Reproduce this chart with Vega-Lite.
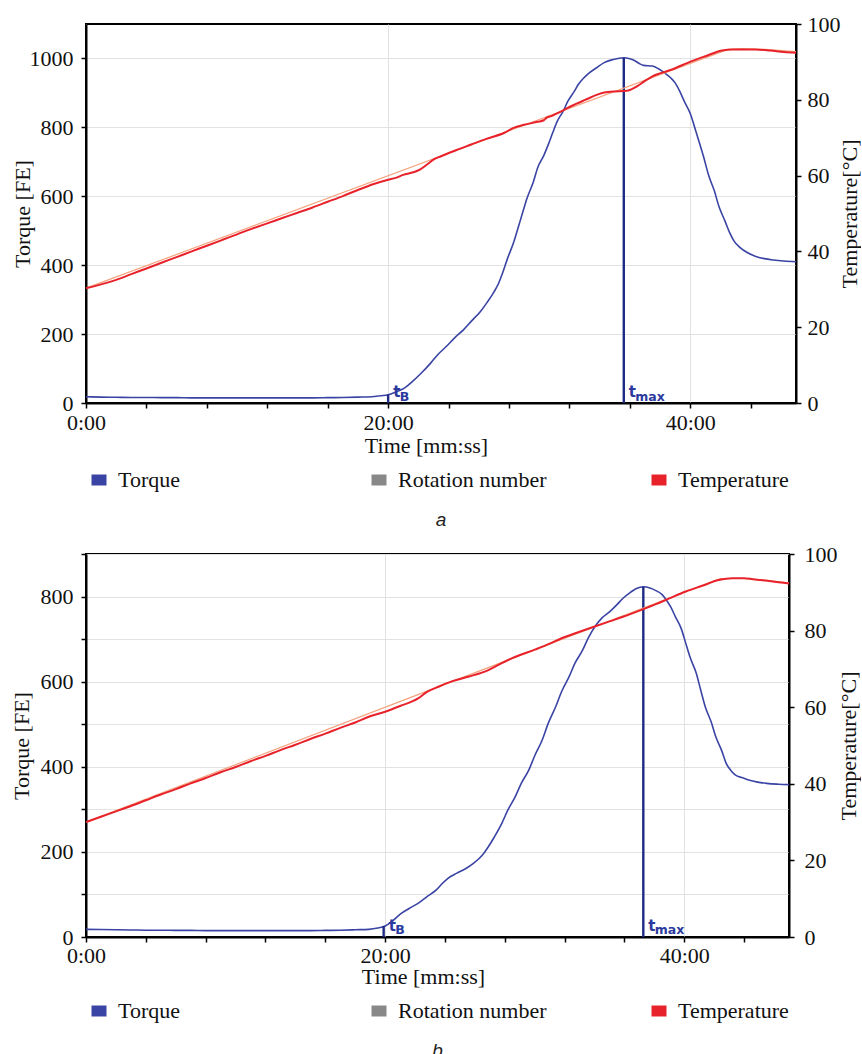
{
"$schema":"https://vega.github.io/schema/vega-lite/v6.json",
"background":"white",
"padding":{"left":9,"top":12,"right":0,"bottom":0},
"autosize":{"type":"pad"},
"datasets":{
"torqueA":[{"t":0,"v":18},{"t":1,"v":17},{"t":2,"v":16.5},{"t":3,"v":16},{"t":4,"v":16},{"t":5,"v":15.5},{"t":6,"v":15.5},{"t":7,"v":15},{"t":8,"v":15},{"t":9,"v":15},{"t":10,"v":14.8},{"t":11,"v":14.8},{"t":12,"v":15},{"t":13,"v":15},{"t":14,"v":15},{"t":15,"v":15},{"t":16,"v":15.5},{"t":17,"v":16},{"t":18,"v":17},{"t":18.9,"v":18},{"t":19.5,"v":21},{"t":20,"v":24},{"t":20.5,"v":32},{"t":21.1,"v":44},{"t":21.6,"v":62},{"t":22.2,"v":87},{"t":22.8,"v":115},{"t":23.3,"v":141},{"t":23.9,"v":166},{"t":24.4,"v":189},{"t":25.0,"v":213},{"t":25.5,"v":237},{"t":26.1,"v":265},{"t":26.6,"v":295},{"t":27.0,"v":322},{"t":27.3,"v":346},{"t":27.6,"v":380},{"t":27.9,"v":419},{"t":28.3,"v":465},{"t":28.6,"v":508},{"t":28.9,"v":552},{"t":29.2,"v":595},{"t":29.6,"v":640},{"t":29.9,"v":683},{"t":30.3,"v":718},{"t":30.6,"v":750},{"t":30.9,"v":785},{"t":31.2,"v":818},{"t":31.6,"v":848},{"t":31.9,"v":876},{"t":32.3,"v":903},{"t":32.6,"v":925},{"t":32.9,"v":941},{"t":33.2,"v":954},{"t":33.8,"v":973},{"t":34.3,"v":988},{"t":34.9,"v":997},{"t":35.6,"v":1002},{"t":36.0,"v":999},{"t":36.3,"v":994},{"t":36.6,"v":986},{"t":36.9,"v":980},{"t":37.5,"v":978},{"t":37.9,"v":970},{"t":38.3,"v":958},{"t":38.7,"v":944},{"t":39.0,"v":929},{"t":39.3,"v":905},{"t":39.6,"v":876},{"t":40.0,"v":840},{"t":40.3,"v":799},{"t":40.6,"v":756},{"t":40.9,"v":712},{"t":41.2,"v":663},{"t":41.6,"v":615},{"t":41.9,"v":570},{"t":42.3,"v":528},{"t":42.6,"v":495},{"t":42.9,"v":470},{"t":43.3,"v":451},{"t":43.8,"v":436},{"t":44.3,"v":426},{"t":44.9,"v":419},{"t":45.5,"v":415},{"t":46.2,"v":412},{"t":47.0,"v":410}],
"tempA":[{"t":0,"v":30.3},{"t":1,"v":31.3},{"t":2,"v":32.5},{"t":3,"v":34.0},{"t":4,"v":35.5},{"t":5,"v":37.0},{"t":6,"v":38.5},{"t":7,"v":40.0},{"t":8,"v":41.5},{"t":9,"v":43.0},{"t":10,"v":44.5},{"t":11,"v":46.0},{"t":12,"v":47.4},{"t":13,"v":48.8},{"t":14,"v":50.2},{"t":15,"v":51.6},{"t":16,"v":53.1},{"t":17,"v":54.6},{"t":18,"v":56.2},{"t":19,"v":57.7},{"t":20,"v":58.9},{"t":20.5,"v":59.4},{"t":21,"v":60.2},{"t":21.6,"v":60.8},{"t":22.1,"v":61.6},{"t":22.6,"v":63.0},{"t":23.0,"v":64.2},{"t":23.5,"v":65.1},{"t":24.5,"v":66.7},{"t":25.5,"v":68.2},{"t":26.5,"v":69.7},{"t":27.7,"v":71.3},{"t":28.3,"v":72.6},{"t":29.0,"v":73.4},{"t":29.9,"v":74.2},{"t":30.3,"v":74.6},{"t":30.5,"v":75.3},{"t":30.8,"v":75.7},{"t":31.5,"v":77.0},{"t":32.1,"v":78.3},{"t":33.0,"v":79.9},{"t":34.3,"v":81.9},{"t":35.0,"v":82.2},{"t":35.6,"v":82.3},{"t":36.0,"v":82.6},{"t":36.5,"v":83.6},{"t":37.0,"v":85.0},{"t":37.5,"v":86.2},{"t":38.8,"v":88.0},{"t":40.1,"v":90.2},{"t":41.0,"v":91.5},{"t":42.1,"v":93.0},{"t":42.8,"v":93.3},{"t":44.3,"v":93.3},{"t":45.3,"v":93.0},{"t":46.2,"v":92.6},{"t":47,"v":92.4}],
"setA":[{"t":0,"v":30.3},{"t":42.5,"v":93.3},{"t":43.5,"v":93.5},{"t":45,"v":93.3},{"t":47,"v":92.7}],
"markA":[{"t":20,"v":24,"sub":"B"},{"t":35.6,"v":1002,"sub":"max"}],
"torqueB":[{"t":0,"v":18},{"t":1,"v":17.5},{"t":2,"v":17},{"t":3,"v":16.5},{"t":4,"v":16},{"t":5,"v":16},{"t":6,"v":15.5},{"t":7,"v":15.5},{"t":8,"v":15},{"t":9,"v":15},{"t":10,"v":15},{"t":11,"v":15},{"t":12,"v":15},{"t":13,"v":15},{"t":14,"v":15},{"t":15,"v":15},{"t":16,"v":15.5},{"t":17,"v":16},{"t":18,"v":17},{"t":18.9,"v":18},{"t":19.5,"v":21},{"t":20,"v":26},{"t":20.5,"v":38},{"t":21.1,"v":56},{"t":21.6,"v":67},{"t":22.2,"v":79},{"t":22.8,"v":95},{"t":23.4,"v":110},{"t":23.8,"v":125},{"t":24.2,"v":138},{"t":24.8,"v":150},{"t":25.4,"v":161},{"t":25.9,"v":173},{"t":26.3,"v":185},{"t":26.6,"v":197},{"t":26.9,"v":212},{"t":27.3,"v":235},{"t":27.8,"v":267},{"t":28.2,"v":298},{"t":28.7,"v":330},{"t":29.1,"v":361},{"t":29.6,"v":392},{"t":30.0,"v":426},{"t":30.5,"v":463},{"t":30.9,"v":502},{"t":31.4,"v":541},{"t":31.8,"v":577},{"t":32.3,"v":612},{"t":32.7,"v":644},{"t":33.2,"v":674},{"t":33.6,"v":704},{"t":34.1,"v":733},{"t":34.5,"v":750},{"t":35.0,"v":764},{"t":35.5,"v":781},{"t":35.9,"v":796},{"t":36.4,"v":810},{"t":36.8,"v":819},{"t":37.3,"v":823},{"t":37.7,"v":820},{"t":38.1,"v":814},{"t":38.5,"v":805},{"t":38.8,"v":792},{"t":39.1,"v":775},{"t":39.4,"v":753},{"t":39.8,"v":724},{"t":40.1,"v":690},{"t":40.4,"v":656},{"t":40.8,"v":620},{"t":41.1,"v":580},{"t":41.4,"v":541},{"t":41.8,"v":505},{"t":42.1,"v":471},{"t":42.5,"v":438},{"t":42.8,"v":408},{"t":43.1,"v":392},{"t":43.4,"v":381},{"t":43.9,"v":374},{"t":44.3,"v":369},{"t":44.9,"v":364},{"t":45.5,"v":361},{"t":46.3,"v":359},{"t":47.0,"v":358}],
"tempB":[{"t":0,"v":30.0},{"t":1,"v":31.4},{"t":2,"v":32.8},{"t":3,"v":34.2},{"t":4,"v":35.7},{"t":5,"v":37.2},{"t":6,"v":38.6},{"t":7,"v":40.1},{"t":8,"v":41.5},{"t":9,"v":43.0},{"t":10,"v":44.4},{"t":11,"v":45.9},{"t":12,"v":47.3},{"t":13,"v":48.8},{"t":14,"v":50.2},{"t":15,"v":51.7},{"t":16,"v":53.1},{"t":17,"v":54.6},{"t":18,"v":56.0},{"t":18.9,"v":57.5},{"t":20,"v":58.8},{"t":21,"v":60.3},{"t":22.2,"v":62.3},{"t":22.8,"v":64.0},{"t":23.6,"v":65.4},{"t":24.5,"v":66.8},{"t":25.6,"v":68.0},{"t":26.9,"v":69.7},{"t":27.7,"v":71.3},{"t":28.5,"v":72.8},{"t":30.05,"v":75.1},{"t":31.0,"v":76.6},{"t":31.8,"v":78.0},{"t":33.0,"v":79.7},{"t":34.1,"v":81.2},{"t":35.0,"v":82.4},{"t":35.9,"v":83.6},{"t":37.26,"v":85.6},{"t":38.1,"v":86.9},{"t":39.0,"v":88.4},{"t":40.1,"v":90.2},{"t":41.2,"v":91.7},{"t":42.3,"v":93.2},{"t":43.2,"v":93.7},{"t":44.0,"v":93.7},{"t":44.6,"v":93.4},{"t":45.8,"v":92.9},{"t":47,"v":92.3}],
"setB":[{"t":0,"v":30.0},{"t":42.4,"v":93.6},{"t":44,"v":93.6},{"t":45.5,"v":93.1},{"t":47,"v":92.5}],
"markB":[{"t":19.9,"v":26,"sub":"B"},{"t":37.26,"v":823,"sub":"max"}]
},
"vconcat":[
{
"width":710,"height":379,
"title":{"text":"a","orient":"bottom","anchor":"middle","offset":9},
"resolve":{"scale":{"y":"independent"}},
"layer":[
{"layer":[
{"data":{"name":"torqueA"},"mark":{"type":"line","interpolate":"monotone"},
"encoding":{
"x":{"field":"t","type":"quantitative","scale":{"domain":[0,47],"nice":false,"zero":false},
"axis":{"values":[0,1,2,3,4,5,6,7,8,9,10,11,12,13,14,15,16,17,18,19,20,21,22,23,24,25,26,27,28,29,30,31,32,33,34,35,36,37,38,39,40,41,42,43,44,45,46,47],
"labelExpr":"datum.value % 10 == 0 ? datum.value + ':00' : ''","title":"Time [mm:ss]","titleX":340,"labelPadding":4,"titlePadding":2,
"grid":true,"gridOpacity":{"condition":{"test":"datum.value % 10 == 0","value":1},"value":0}}},
"y":{"field":"v","type":"quantitative","scale":{"domain":[0,1100],"nice":false},
"axis":{"values":[0,50,100,150,200,250,300,350,400,450,500,550,600,650,700,750,800,850,900,950,1000,1050,1100],
"labelExpr":"datum.value % 200 == 0 ? '' + datum.value : ''","title":"Torque [FE]","labelPadding":8,"titlePadding":-5,
"grid":true,"gridOpacity":{"condition":{"test":"datum.value % 100 == 0","value":1},"value":0}}},
"strokeWidth":{"value":1.6},
"color":{"datum":"Torque","type":"nominal","scale":{"domain":["Torque","Rotation number","Temperature"],"range":["#3a44a4","#888888","#e8222a"]},
"legend":{"orient":"bottom","direction":"horizontal","columns":3,"gridAlign":"all","columnPadding":82,"title":null,"symbolType":"stroke","symbolSize":225,"symbolStrokeWidth":11,"symbolOpacity":1,"labelFont":"Liberation Serif","labelFontSize":22,"labelColor":"#111","labelOffset":6,"offset":11,"padding":0}}
}},
{"data":{"name":"markA"},"mark":{"type":"rule","color":"#1e2a84","strokeWidth":2.4},
"encoding":{"x":{"field":"t","type":"quantitative"},"y":{"field":"v","type":"quantitative"},"y2":{"datum":0}}},
{"data":{"name":"markA"},"mark":{"type":"text","align":"left","baseline":"alphabetic","dx":5,"dy":-6,"font":"DejaVu Sans","fontWeight":"bold","fontSize":15,"color":"#2c3a9e"},
"encoding":{"x":{"field":"t","type":"quantitative"},"y":{"datum":0,"type":"quantitative"},"text":{"value":"t"}}},
{"data":{"name":"markA"},"mark":{"type":"text","align":"left","baseline":"alphabetic","dx":11.5,"dy":-2.5,"font":"DejaVu Sans","fontWeight":"bold","fontSize":12.5,"color":"#2c3a9e"},
"encoding":{"x":{"field":"t","type":"quantitative"},"y":{"datum":0,"type":"quantitative"},"text":{"field":"sub"}}}
]},
{"layer":[
{"data":{"name":"setA"},"mark":{"type":"line","color":"#f4a27e","strokeWidth":1.2},
"encoding":{"x":{"field":"t","type":"quantitative"},
"y":{"field":"v","type":"quantitative","scale":{"domain":[0,100],"nice":false},
"axis":{"orient":"right","values":[0,5,10,15,20,25,30,35,40,45,50,55,60,65,70,75,80,85,90,95,100],"labelExpr":"datum.value % 10 == 0 ? datum.label : ''",
"title":"Temperature[°C]","titleAngle":-90,"titleBaseline":"top","labelPadding":6,"titlePadding":-1,"grid":false}}}},
{"data":{"name":"tempA"},"mark":{"type":"line","interpolate":"monotone"},
"encoding":{"x":{"field":"t","type":"quantitative"},"y":{"field":"v","type":"quantitative"},"strokeWidth":{"value":2},
"color":{"datum":"Temperature","type":"nominal",
"legend":{"orient":"bottom","direction":"horizontal","columns":3,"gridAlign":"all","columnPadding":82,"title":null,"symbolType":"stroke","symbolSize":225,"symbolStrokeWidth":11,"symbolOpacity":1,"labelFont":"Liberation Serif","labelFontSize":22,"labelColor":"#111","labelOffset":6,"offset":11,"padding":0}}}}
]}
]
},
{
"width":703,"height":383,
"title":{"text":"b","orient":"bottom","anchor":"middle","offset":9},
"resolve":{"scale":{"y":"independent"}},
"layer":[
{"layer":[
{"data":{"name":"torqueB"},"mark":{"type":"line","interpolate":"monotone"},
"encoding":{
"x":{"field":"t","type":"quantitative","scale":{"domain":[0,47],"nice":false,"zero":false},
"axis":{"values":[0,1,2,3,4,5,6,7,8,9,10,11,12,13,14,15,16,17,18,19,20,21,22,23,24,25,26,27,28,29,30,31,32,33,34,35,36,37,38,39,40,41,42,43,44,45,46,47],
"labelExpr":"datum.value % 10 == 0 ? datum.value + ':00' : ''","title":"Time [mm:ss]","titleX":337,"labelPadding":3,"titlePadding":0,
"grid":true,"gridOpacity":{"condition":{"test":"datum.value % 10 == 0","value":1},"value":0}}},
"y":{"field":"v","type":"quantitative","scale":{"domain":[0,900],"nice":false},
"axis":{"values":[0,50,100,150,200,250,300,350,400,450,500,550,600,650,700,750,800,850,900],
"labelExpr":"datum.value % 200 == 0 ? '' + datum.value : ''","title":"Torque [FE]","labelPadding":8,"titlePadding":7,
"grid":true,"gridOpacity":{"condition":{"test":"datum.value % 100 == 0","value":1},"value":0}}},
"strokeWidth":{"value":1.6},
"color":{"datum":"Torque","type":"nominal","scale":{"domain":["Torque","Rotation number","Temperature"],"range":["#3a44a4","#888888","#e8222a"]},
"legend":{"orient":"bottom","direction":"horizontal","columns":3,"gridAlign":"all","columnPadding":82,"title":null,"symbolType":"stroke","symbolSize":225,"symbolStrokeWidth":11,"symbolOpacity":1,"labelFont":"Liberation Serif","labelFontSize":22,"labelColor":"#111","labelOffset":6,"offset":11,"padding":0}}
}},
{"data":{"name":"markB"},"mark":{"type":"rule","color":"#1e2a84","strokeWidth":2.4},
"encoding":{"x":{"field":"t","type":"quantitative"},"y":{"field":"v","type":"quantitative"},"y2":{"datum":0}}},
{"data":{"name":"markB"},"mark":{"type":"text","align":"left","baseline":"alphabetic","dx":5,"dy":-6,"font":"DejaVu Sans","fontWeight":"bold","fontSize":15,"color":"#2c3a9e"},
"encoding":{"x":{"field":"t","type":"quantitative"},"y":{"datum":0,"type":"quantitative"},"text":{"value":"t"}}},
{"data":{"name":"markB"},"mark":{"type":"text","align":"left","baseline":"alphabetic","dx":11.5,"dy":-3,"font":"DejaVu Sans","fontWeight":"bold","fontSize":12.5,"color":"#2c3a9e"},
"encoding":{"x":{"field":"t","type":"quantitative"},"y":{"datum":0,"type":"quantitative"},"text":{"field":"sub"}}}
]},
{"layer":[
{"data":{"name":"setB"},"mark":{"type":"line","color":"#f4a27e","strokeWidth":1.2},
"encoding":{"x":{"field":"t","type":"quantitative"},
"y":{"field":"v","type":"quantitative","scale":{"domain":[0,100],"nice":false},
"axis":{"orient":"right","values":[0,5,10,15,20,25,30,35,40,45,50,55,60,65,70,75,80,85,90,95,100],"labelExpr":"datum.value % 10 == 0 ? datum.label : ''",
"title":"Temperature[°C]","titleAngle":-90,"titleBaseline":"top","labelPadding":10,"titlePadding":1,"grid":false}}}},
{"data":{"name":"tempB"},"mark":{"type":"line","interpolate":"monotone"},
"encoding":{"x":{"field":"t","type":"quantitative"},"y":{"field":"v","type":"quantitative"},"strokeWidth":{"value":2},
"color":{"datum":"Temperature","type":"nominal",
"legend":{"orient":"bottom","direction":"horizontal","columns":3,"gridAlign":"all","columnPadding":82,"title":null,"symbolType":"stroke","symbolSize":225,"symbolStrokeWidth":11,"symbolOpacity":1,"labelFont":"Liberation Serif","labelFontSize":22,"labelColor":"#111","labelOffset":6,"offset":11,"padding":0}}}}
]}
]
}
],
"spacing":11,
"resolve":{"scale":{"y":"independent","x":"independent"},"legend":{"color":"independent"}},
"config":{
"view":{"stroke":"#000","strokeWidth":2},
"axis":{"labelFont":"Liberation Serif","labelFontSize":22,"labelColor":"#111","titleFont":"Liberation Serif","titleFontSize":22,"titleFontWeight":"normal","titleColor":"#111","domainColor":"#000","domainWidth":2,"tickColor":"#000","tickWidth":1.5,"tickSize":5,"gridColor":"#e2e2e2","gridWidth":1,"labelOverlap":false,"labelFlush":false},
"title":{"font":"Liberation Sans","fontStyle":"italic","fontWeight":"normal","fontSize":19,"color":"#222"}
}
}
